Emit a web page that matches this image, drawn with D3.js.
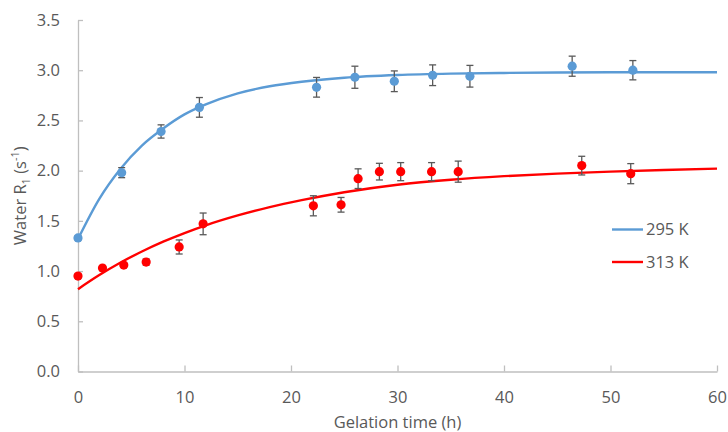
<!DOCTYPE html>
<html>
<head>
<meta charset="utf-8">
<script src="https://cdn.jsdelivr.net/npm/d3@7"></script>
<style>
  html, body { margin: 0; padding: 0; background: #fff; }
  svg { display: block; font-family: "Open Sans", sans-serif; }
</style>
</head>
<body>
<svg id="chart" width="728" height="432"></svg>
<script>
// Measured water R1 at 295 K: time (h), value (s^-1), error
const t295 = [0, 4.1, 7.8, 11.4, 22.4, 26.0, 29.7, 33.3, 36.8, 46.4, 52.1];
const r295 = [1.33, 1.98, 2.39, 2.63, 2.83, 2.93, 2.89, 2.95, 2.94, 3.04, 3.00];
const e295 = [0.02, 0.05, 0.066, 0.098, 0.098, 0.11, 0.103, 0.103, 0.108, 0.10, 0.096];

// Measured water R1 at 313 K
const t313 = [0, 2.3, 4.3, 6.4, 9.5, 11.75, 22.1, 24.7, 26.3, 28.3, 30.3, 33.2, 35.7, 47.3, 51.9];
const r313 = [0.95, 1.03, 1.06, 1.09, 1.24, 1.47, 1.65, 1.66, 1.92, 1.99, 1.99, 1.99, 1.99, 2.05, 1.97];
const e313 = [0.02, 0.02, 0.02, 0.03, 0.07, 0.108, 0.10, 0.073, 0.098, 0.083, 0.09, 0.09, 0.105, 0.093, 0.10];

// Fitted recovery curves, sampled along the time axis
const fitT    = [0, 2, 4, 6, 8, 10, 12, 15, 18, 21, 25, 30, 35, 40, 45, 50, 55, 60];
const fit295  = [1.32, 1.72, 2.02, 2.25, 2.42, 2.56, 2.66, 2.77, 2.84, 2.885, 2.925, 2.952, 2.966, 2.973, 2.977, 2.979, 2.98, 2.98];
const fit313  = [0.82, 0.96, 1.085, 1.195, 1.293, 1.379, 1.456, 1.554, 1.637, 1.706, 1.785, 1.86, 1.91, 1.945, 1.97, 1.99, 2.006, 2.02];

const xTicks = [0, 10, 20, 30, 40, 50, 60];
const yTicks = [0, 0.5, 1.0, 1.5, 2.0, 2.5, 3.0, 3.5];

const seriesInfo = [
  { label: "295 K", color: "#5B9BD5", t: t295, r: r295, e: e295, fit: fit295 },
  { label: "313 K", color: "#FF0000", t: t313, r: r313, e: e313, fit: fit313 }
];

const svg = d3.select("#chart");
const x = d3.scaleLinear().domain([0, 60]).range([78, 717]);
const y = d3.scaleLinear().domain([0, 3.5]).range([371.5, 20]);

const axisColor = "#BFBFBF";
const textColor = "#595959";

// x axis with inward ticks
const gx = svg.append("g").attr("transform", `translate(0,${y(0)})`)
  .call(d3.axisBottom(x).tickValues(xTicks).tickFormat(d3.format("d")).tickSizeInner(-6).tickSizeOuter(0).tickPadding(20));
gx.select(".domain").attr("stroke", axisColor).attr("stroke-width", 1.3);
gx.selectAll(".tick line").attr("stroke", axisColor).attr("stroke-width", 1.3);
gx.selectAll(".tick text").attr("fill", textColor).attr("font-size", 16.5).attr("font-family", "Open Sans");

// y axis with inward ticks
const gy = svg.append("g").attr("transform", `translate(${x(0)},0)`)
  .call(d3.axisLeft(y).tickValues(yTicks).tickFormat(d3.format(".1f")).tickSizeInner(-5).tickSizeOuter(0).tickPadding(18));
gy.select(".domain").attr("stroke", axisColor).attr("stroke-width", 1.3);
gy.selectAll(".tick line").attr("stroke", axisColor).attr("stroke-width", 1.3);
gy.selectAll(".tick text").attr("fill", textColor).attr("font-size", 16.5).attr("font-family", "Open Sans");

// axis titles
svg.append("text")
  .attr("x", (x(0) + x(60)) / 2).attr("y", 428)
  .attr("text-anchor", "middle").attr("fill", textColor).attr("font-size", 16.5)
  .text("Gelation time (h)");

const yt = svg.append("text")
  .attr("transform", `translate(26,${(y(0) + y(3.5)) / 2}) rotate(-90)`)
  .attr("text-anchor", "middle").attr("fill", textColor).attr("font-size", 16.5);
yt.append("tspan").text("Water R");
yt.append("tspan").attr("font-size", 11).attr("dy", 4).text("1");
yt.append("tspan").attr("dy", -4).text(" (s");
yt.append("tspan").attr("font-size", 11).attr("dy", -7).text("-1");
yt.append("tspan").attr("dy", 7).text(")");

// fitted curves
const line = d3.line().x(d => x(d[0])).y(d => y(d[1])).curve(d3.curveMonotoneX);
seriesInfo.forEach(s => {
  svg.append("path")
    .datum(fitT.map((t, i) => [t, s.fit[i]]))
    .attr("fill", "none").attr("stroke", s.color).attr("stroke-width", 2.4)
    .attr("d", line);
});

// error bars and markers
seriesInfo.forEach(s => {
  const pts = s.t.map((t, i) => ({ t, r: s.r[i], e: s.e[i] }));
  const eb = svg.append("g").attr("stroke", "#595959").attr("stroke-width", 1.3);
  pts.forEach(p => {
    const cx = x(p.t);
    eb.append("line").attr("x1", cx).attr("x2", cx).attr("y1", y(p.r + p.e)).attr("y2", y(p.r - p.e));
    eb.append("line").attr("x1", cx - 3.5).attr("x2", cx + 3.5).attr("y1", y(p.r + p.e)).attr("y2", y(p.r + p.e));
    eb.append("line").attr("x1", cx - 3.5).attr("x2", cx + 3.5).attr("y1", y(p.r - p.e)).attr("y2", y(p.r - p.e));
  });
  svg.append("g").selectAll("circle").data(pts).join("circle")
    .attr("cx", d => x(d.t)).attr("cy", d => y(d.r)).attr("r", 4.6)
    .attr("fill", s.color);
});

// legend
seriesInfo.forEach((s, i) => {
  const ly = 229.5 + i * 32.5;
  svg.append("line").attr("x1", 612).attr("x2", 643).attr("y1", ly).attr("y2", ly)
    .attr("stroke", s.color).attr("stroke-width", 2.4);
  svg.append("text").attr("x", 646).attr("y", ly).attr("dy", "0.35em")
    .attr("fill", textColor).attr("font-size", 16.5).text(s.label);
});
</script>
</body>
</html>
